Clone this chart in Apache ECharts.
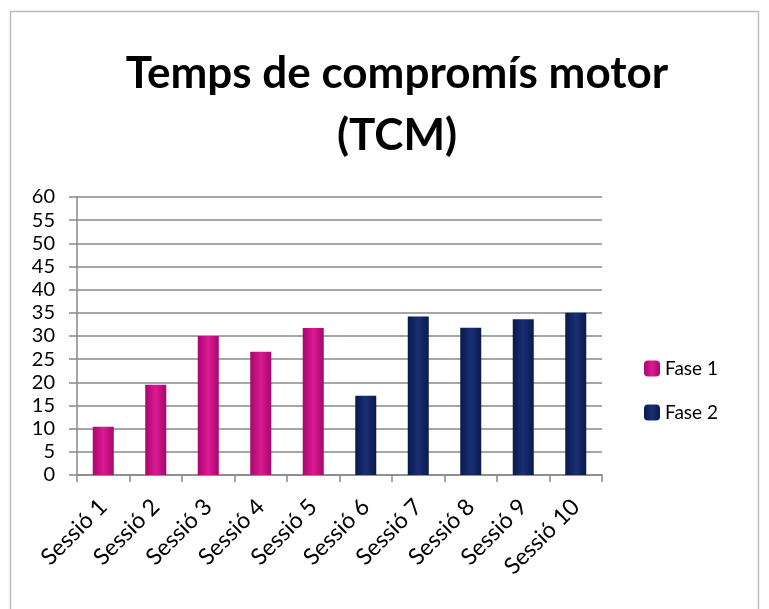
<!DOCTYPE html>
<html>
<head>
<meta charset="utf-8">
<script src="https://cdn.jsdelivr.net/npm/echarts@6/dist/echarts.min.js"></script>
<style>
  html, body { margin: 0; padding: 0; background: #fff; }
  #chart { width: 769px; height: 609px; }
</style>
</head>
<body>
<div id="chart"></div>
<script>
// dades del gràfic
var categories = ['Sessió 1', 'Sessió 2', 'Sessió 3', 'Sessió 4', 'Sessió 5',
  'Sessió 6', 'Sessió 7', 'Sessió 8', 'Sessió 9', 'Sessió 10']
var fase1 = [10.4, 19.5, 30, 26.6, 31.7, '-', '-', '-', '-', '-']
var fase2 = ['-', '-', '-', '-', '-', 17.1, 34.2, 31.8, 33.6, 35]
var yTicks = { min: 0, max: 60, interval: 5 }

function barColor (dark, mid) {
  return {
    type: 'linear', x: 0, y: 0, x2: 1, y2: 0,
    colorStops: [
      { offset: 0, color: dark },
      { offset: 0.5, color: mid },
      { offset: 1, color: dark }
    ]
  }
}

var chart = echarts.init(document.getElementById('chart'))
chart.setOption({
  backgroundColor: '#fff',
  title: {
    text: 'Temps de compromís motor\n(TCM)',
    left: 392,
    top: 38,
    textAlign: 'center',
    textStyle: {
      fontFamily: 'Lato',
      fontWeight: 'bold',
      fontSize: 44,
      lineHeight: 62,
      color: '#000'
    }
  },
  legend: {
    orient: 'vertical',
    left: 639,
    top: 354,
    itemGap: 25,
    itemWidth: 16,
    itemHeight: 16,
    textStyle: { fontFamily: 'Lato', fontSize: 19, color: '#000' },
    data: ['Fase 1', 'Fase 2']
  },
  grid: {
    left: 77,
    right: 167,
    top: 197,
    bottom: 134,
    containLabel: false
  },
  xAxis: {
    type: 'category',
    data: categories,
    axisLine: { lineStyle: { color: '#888', width: 1.5 } },
    axisTick: { show: true, length: 7, lineStyle: { color: '#888', width: 1.5 } },
    axisLabel: {
      rotate: 45,
      interval: 0,
      margin: 28,
      fontFamily: 'Lato',
      fontSize: 23,
      color: '#000'
    }
  },
  yAxis: {
    type: 'value',
    min: yTicks.min,
    max: yTicks.max,
    interval: yTicks.interval,
    axisLine: { show: true, lineStyle: { color: '#888', width: 1.5 } },
    axisTick: { show: true, length: 8, lineStyle: { color: '#888', width: 1.5 } },
    splitLine: { lineStyle: { color: '#888', width: 1.5 } },
    axisLabel: {
      margin: 22,
      fontFamily: 'Lato',
      fontSize: 20,
      color: '#000'
    }
  },
  series: [
    {
      name: 'Fase 1',
      type: 'bar',
      stack: 'tcm',
      barWidth: 21,
      itemStyle: {
        color: barColor('#a8066c', '#dc1a93'),
        shadowColor: 'rgba(0,0,0,0.3)',
        shadowBlur: 3,
        shadowOffsetX: 2
      },
      data: fase1
    },
    {
      name: 'Fase 2',
      type: 'bar',
      stack: 'tcm',
      barWidth: 21,
      itemStyle: {
        color: barColor('#0a1a4c', '#1a2f74'),
        shadowColor: 'rgba(0,0,0,0.3)',
        shadowBlur: 3,
        shadowOffsetX: 2
      },
      data: fase2
    }
  ],
  graphic: [{
    type: 'rect',
    left: 8,
    top: 9,
    shape: { width: 748, height: 610 },
    style: { fill: 'none', stroke: '#bbb', lineWidth: 1.5 },
    silent: true
  }]
})
</script>
</body>
</html>
